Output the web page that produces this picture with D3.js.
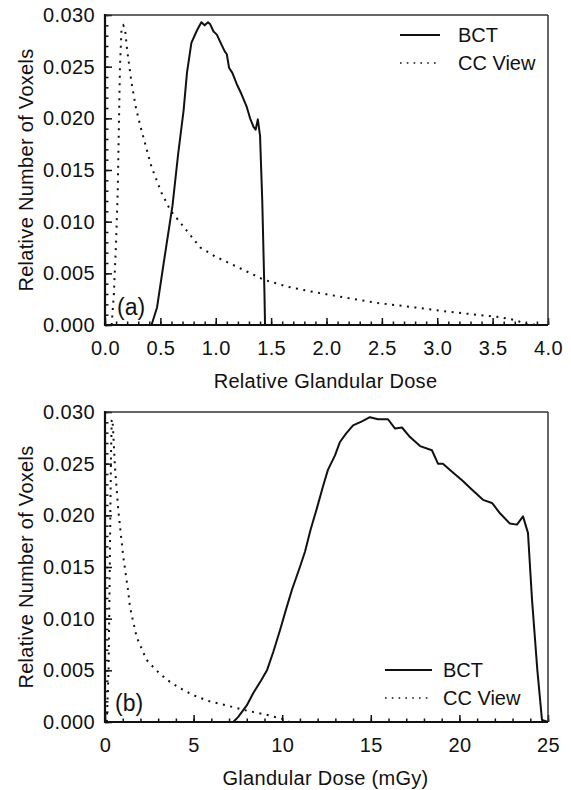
<!DOCTYPE html>
<html>
<head>
<meta charset="utf-8">
<script src="https://cdn.jsdelivr.net/npm/d3@7"></script>
<style>
  body { margin: 0; background: #fff; }
  svg text { font-family: "Liberation Sans", Arial, sans-serif; fill: #111; }
</style>
</head>
<body>
<div id="chart"></div>
<script>
// ---- data ----
// panel (a): relative glandular dose
const bctRelDose = [0.42, 0.47, 0.53, 0.61, 0.66, 0.71, 0.74, 0.78, 0.83, 0.87, 0.90, 0.93, 0.95, 0.98, 1.01, 1.04, 1.08, 1.10, 1.12, 1.15, 1.19, 1.23, 1.28, 1.31, 1.34, 1.36, 1.38, 1.40, 1.42, 1.44, 1.445];
const bctRelFrac = [0, 0.0017, 0.0060, 0.0116, 0.0165, 0.0208, 0.0244, 0.0273, 0.0285, 0.0293, 0.0290, 0.0293, 0.0291, 0.0284, 0.0281, 0.0274, 0.0265, 0.0262, 0.0249, 0.0244, 0.0233, 0.0224, 0.0211, 0.0200, 0.0192, 0.0189, 0.0199, 0.0183, 0.0120, 0.0030, 0];
const ccRelDose = [0.06, 0.08, 0.10, 0.115, 0.125, 0.135, 0.15, 0.165, 0.18, 0.20, 0.24, 0.28, 0.32, 0.42, 0.51, 0.59, 0.68, 0.86, 1.0, 1.16, 1.43, 1.65, 1.88, 2.2, 2.48, 2.8, 3.09, 3.35, 3.54, 3.69, 3.81, 3.9];
const ccRelFrac = [0, 0.003, 0.008, 0.013, 0.019, 0.025, 0.0288, 0.0290, 0.0287, 0.0266, 0.0234, 0.0210, 0.0192, 0.0153, 0.0128, 0.0111, 0.0099, 0.0075, 0.0066, 0.0058, 0.0044, 0.0037, 0.0032, 0.0026, 0.0021, 0.0017, 0.0013, 0.0010, 0.0008, 0.0005, 0.0001, 0];

// panel (b): glandular dose in mGy
const bctDose = [7.24, 7.52, 8.0, 8.37, 8.8, 9.14, 9.5, 9.88, 10.2, 10.55, 11.0, 11.29, 11.6, 11.96, 12.3, 12.58, 12.98, 13.26, 13.6, 14.0, 14.5, 14.95, 15.4, 15.97, 16.37, 16.76, 17.2, 17.78, 18.45, 18.79, 19.07, 19.6, 20.15, 20.7, 21.33, 21.84, 22.29, 22.85, 23.25, 23.59, 23.87, 24.1, 24.4, 24.66, 25];
const bctFrac = [0, 0.0005, 0.0016, 0.0028, 0.0040, 0.0050, 0.0068, 0.0089, 0.0108, 0.0128, 0.0150, 0.0165, 0.0186, 0.0207, 0.0228, 0.0244, 0.0258, 0.0271, 0.0279, 0.0287, 0.0291, 0.0295, 0.0293, 0.0293, 0.0284, 0.0285, 0.0276, 0.0267, 0.0263, 0.0250, 0.0250, 0.0242, 0.0234, 0.0225, 0.0215, 0.0212, 0.0202, 0.0192, 0.0191, 0.0199, 0.0183, 0.0118, 0.0050, 0.0002, 0];
const ccDose = [0.1, 0.2, 0.25, 0.3, 0.34, 0.38, 0.41, 0.45, 0.56, 0.75, 1.03, 1.32, 1.41, 1.79, 2.35, 2.9, 3.48, 4.2, 4.97, 5.9, 6.86, 8.0, 9.12, 10.0, 10.4];
const ccFrac = [0, 0.005, 0.012, 0.020, 0.026, 0.0292, 0.0293, 0.0285, 0.0247, 0.0205, 0.0160, 0.0125, 0.0111, 0.0082, 0.0060, 0.0050, 0.0041, 0.0033, 0.0026, 0.0020, 0.0016, 0.0011, 0.0007, 0.0003, 0];

const yTicks = [0, 0.005, 0.010, 0.015, 0.020, 0.025, 0.030];
const relDoseTicks = [0, 0.5, 1.0, 1.5, 2.0, 2.5, 3.0, 3.5, 4.0];
const doseTicks = [0, 5, 10, 15, 20, 25];
const seriesNames = ['BCT', 'CC View'];

const width = 571, height = 790;
const svg = d3.select('#chart').append('svg')
  .attr('width', width)
  .attr('height', height);

function drawPanel(opts) {
  const { top, xMax, xTicks, xMinorStep, xFmt, xTitle, tag, bct, cc, legendPos } = opts;
  const left = 105, plotW = 443, plotH = 310;

  const g = svg.append('g').attr('transform', `translate(${left},${top})`);

  const x = d3.scaleLinear().domain([0, xMax]).range([0, plotW]);
  const y = d3.scaleLinear().domain([0, 0.030]).range([plotH, 0]);

  // minor ticks
  const xMinor = d3.range(0, xMax + 1e-9, xMinorStep);
  const yMinor = d3.range(0, 0.030 + 1e-9, 0.001);

  g.append('g')
    .attr('transform', `translate(0,${plotH})`)
    .call(d3.axisBottom(x).tickValues(xMinor).tickSize(-3.5).tickFormat(''))
    .call(a => a.select('.domain').remove())
    .selectAll('line').attr('stroke', '#111').attr('stroke-width', 1.5);

  g.append('g')
    .call(d3.axisLeft(y).tickValues(yMinor).tickSize(-3.5).tickFormat(''))
    .call(a => a.select('.domain').remove())
    .selectAll('line').attr('stroke', '#111').attr('stroke-width', 1.5);

  // major ticks + labels
  const xAxis = g.append('g')
    .attr('transform', `translate(0,${plotH})`)
    .call(d3.axisBottom(x).tickValues(xTicks).tickSize(-7).tickPadding(16).tickFormat(xFmt));
  xAxis.select('.domain').remove();
  xAxis.selectAll('line').attr('stroke', '#111').attr('stroke-width', 1.5);
  xAxis.selectAll('text').attr('font-size', 20).attr('fill', '#111').style('letter-spacing', '0.4px');

  const yAxis = g.append('g')
    .call(d3.axisLeft(y).tickValues(yTicks).tickSize(-7).tickPadding(10).tickFormat(d3.format('.3f')));
  yAxis.select('.domain').remove();
  yAxis.selectAll('line').attr('stroke', '#111').attr('stroke-width', 1.5);
  yAxis.selectAll('text').attr('font-size', 20).attr('fill', '#111').style('letter-spacing', '0.4px');

  // frame
  g.append('line').attr('x1', 0).attr('x2', plotW).attr('y1', 0).attr('y2', 0)
    .attr('stroke', '#333').attr('stroke-width', 1.5);
  g.append('line').attr('x1', plotW).attr('x2', plotW).attr('y1', 0).attr('y2', plotH)
    .attr('stroke', '#333').attr('stroke-width', 1.5);
  g.append('line').attr('x1', 0).attr('x2', 0).attr('y1', -1).attr('y2', plotH + 1)
    .attr('stroke', '#111').attr('stroke-width', 2.2);
  g.append('line').attr('x1', -1).attr('x2', plotW).attr('y1', plotH).attr('y2', plotH)
    .attr('stroke', '#111').attr('stroke-width', 2.2);

  const line = d3.line().x(d => x(d[0])).y(d => y(d[1]));

  g.append('path')
    .datum(d3.zip(cc[0], cc[1]))
    .attr('fill', 'none')
    .attr('stroke', '#111')
    .attr('stroke-width', 2)
    .attr('stroke-dasharray', '2,5.5')
    .attr('d', line);

  g.append('path')
    .datum(d3.zip(bct[0], bct[1]))
    .attr('fill', 'none')
    .attr('stroke', '#111')
    .attr('stroke-width', 2)
    .attr('stroke-linejoin', 'round')
    .attr('d', line);

  // axis titles
  svg.append('text')
    .attr('x', left + plotW / 2 - 1)
    .attr('y', top + plotH + 63)
    .attr('text-anchor', 'middle')
    .attr('font-size', 20)
    .style('letter-spacing', '0.3px')
    .text(xTitle);

  svg.append('text')
    .attr('transform', `translate(33,${top + plotH / 2}) rotate(-90)`)
    .attr('text-anchor', 'middle')
    .attr('font-size', 20)
    .style('letter-spacing', '0.3px')
    .text('Relative Number of Voxels');

  // panel tag
  g.append('text')
    .attr('x', tag.x)
    .attr('y', plotH - tag.dy)
    .attr('font-size', 23)
    .text(tag.label);

  // legend
  const lg = svg.append('g').attr('transform', `translate(${legendPos[0]},${legendPos[1]})`);
  seriesNames.forEach((name, i) => {
    lg.append('line')
      .attr('x1', 0).attr('x2', legendPos[2])
      .attr('y1', i * 28).attr('y2', i * 28)
      .attr('stroke', '#111')
      .attr('stroke-width', i === 0 ? 2 : 1.6)
      .attr('stroke-dasharray', i === 0 ? null : '1.6,5.2');
    lg.append('text')
      .attr('x', legendPos[3])
      .attr('y', i * 28 + 7)
      .attr('font-size', 20)
      .text(name);
  });
}

drawPanel({
  top: 15, xMax: 4, xTicks: relDoseTicks, xMinorStep: 0.1, xFmt: d3.format('.1f'),
  xTitle: 'Relative Glandular Dose',
  tag: { label: '(a)', x: 12, dy: 10 },
  bct: [bctRelDose, bctRelFrac], cc: [ccRelDose, ccRelFrac],
  legendPos: [400, 35, 40, 58]
});

drawPanel({
  top: 412, xMax: 25, xTicks: doseTicks, xMinorStep: 1, xFmt: d3.format('d'),
  xTitle: 'Glandular Dose (mGy)',
  tag: { label: '(b)', x: 10, dy: 11 },
  bct: [bctDose, bctFrac], cc: [ccDose, ccFrac],
  legendPos: [385, 670, 47, 58]
});
</script>
</body>
</html>
